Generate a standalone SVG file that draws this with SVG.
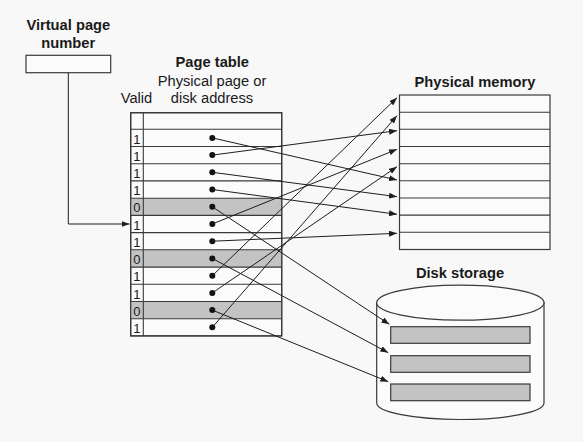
<svg xmlns="http://www.w3.org/2000/svg" width="583" height="442" viewBox="0 0 583 442">
<style>
  .t { font-family: "Liberation Sans", Arial, sans-serif; font-size: 14.7px; fill: #1a1a1a; }
  .b { font-weight: bold; }
  .v { font-family: "Liberation Sans", Arial, sans-serif; font-size: 13px; fill: #1a1a1a; }
  .box { fill: #fbfbfb; stroke: #3a3a3a; stroke-width: 1.2; }
  .ln { stroke: #3a3a3a; stroke-width: 1.1; fill: none; }
  .gray { fill: #c3c3c3; }
  .conn { stroke: #1e1e1e; stroke-width: 1; fill: none; marker-end: url(#ah); }
  .dot { fill: #111; }
  .slab { fill: #c3c3c3; stroke: #3a3a3a; stroke-width: 1.2; }
</style>
<defs>
  <marker id="ah" viewBox="0 0 8 6" refX="8" refY="3" markerWidth="8" markerHeight="6" markerUnits="userSpaceOnUse" orient="auto">
    <path d="M0,0 L8,3 L0,6 z" fill="#1e1e1e"/>
  </marker>
</defs>
<rect width="583" height="442" fill="#f8f8f8"/>

<g id="virtual-page-number">
  <text class="t b" x="68.3" y="30" text-anchor="middle">Virtual page</text>
  <text class="t b" x="68.3" y="48" text-anchor="middle">number</text>
  <rect class="box" x="26" y="55.3" width="84.7" height="17.4"/>
</g>

<g id="page-table">
  <text class="t b" x="212.3" y="66.7" text-anchor="middle">Page table</text>
  <text class="t" x="212" y="86" text-anchor="middle">Physical page or</text>
  <text class="t" x="212" y="103.3" text-anchor="middle">disk address</text>
  <text class="t" x="136.5" y="103.3" text-anchor="middle">Valid</text>
  <rect class="box" x="130.7" y="112.7" width="151" height="223.2"/>
  <rect class="gray" x="130.7" y="198.2" width="151" height="17.2"/>
  <rect class="gray" x="130.7" y="249.8" width="151" height="17.3"/>
  <rect class="gray" x="130.7" y="301.5" width="151" height="17.2"/>
  <path class="ln" d="M143.3,112.7 V335.9 M130.7,129.3 H281.7 M130.7,146.5 H281.7 M130.7,163.7 H281.7 M130.7,180.9 H281.7 M130.7,198.2 H281.7 M130.7,215.4 H281.7 M130.7,232.6 H281.7 M130.7,249.8 H281.7 M130.7,267.1 H281.7 M130.7,284.3 H281.7 M130.7,301.5 H281.7 M130.7,318.7 H281.7"/>
  <rect x="130.7" y="112.7" width="151" height="223.2" fill="none" stroke="#3a3a3a" stroke-width="1.2"/>
  <g class="v">
    <text x="133.3" y="143.5">1</text>
    <text x="133.3" y="160.7">1</text>
    <text x="133.3" y="177.9">1</text>
    <text x="133.3" y="195.1">1</text>
    <text x="133.3" y="212.4">0</text>
    <text x="133.3" y="229.6">1</text>
    <text x="133.3" y="246.8">1</text>
    <text x="133.3" y="264">0</text>
    <text x="133.3" y="281.3">1</text>
    <text x="133.3" y="298.5">1</text>
    <text x="133.3" y="315.7">0</text>
    <text x="133.3" y="332.9">1</text>
  </g>
  <g class="dot">
    <circle cx="212.3" cy="137.9" r="3"/>
    <circle cx="212.3" cy="155.1" r="3"/>
    <circle cx="212.3" cy="172.3" r="3"/>
    <circle cx="212.3" cy="189.5" r="3"/>
    <circle cx="212.3" cy="206.8" r="3"/>
    <circle cx="212.3" cy="224" r="3"/>
    <circle cx="212.3" cy="241.2" r="3"/>
    <circle cx="212.3" cy="258.4" r="3"/>
    <circle cx="212.3" cy="275.7" r="3"/>
    <circle cx="212.3" cy="292.9" r="3"/>
    <circle cx="212.3" cy="310.1" r="3"/>
    <circle cx="212.3" cy="327.3" r="3"/>
  </g>
</g>

<g id="physical-memory">
  <text class="t b" x="475" y="86.7" text-anchor="middle">Physical memory</text>
  <rect class="box" x="399.5" y="95" width="150.5" height="154.5"/>
  <path class="ln" d="M399.5,112.2 H550 M399.5,129.3 H550 M399.5,146.5 H550 M399.5,163.7 H550 M399.5,180.8 H550 M399.5,198 H550 M399.5,215.1 H550 M399.5,232.3 H550"/>
</g>

<g id="disk-storage">
  <text class="t b" x="460" y="278.3" text-anchor="middle">Disk storage</text>
  <path class="box" d="M376.7,302.7 V403 A83.65,16.5 0 0 0 544,403 V302.7 Z"/>
  <ellipse class="box" cx="460.35" cy="302.7" rx="83.65" ry="17.5"/>
  <rect class="slab" x="390.7" y="326.7" width="139.3" height="16.6"/>
  <rect class="slab" x="390.7" y="355.7" width="139.3" height="16.6"/>
  <rect class="slab" x="390.7" y="384" width="139.3" height="16.7"/>
</g>

<g id="connectors">
  <path class="conn" d="M68.3,72.7 V224 H129.5"/>
  <path class="conn" d="M212.3,137.9 L397,180"/>
  <path class="conn" d="M212.3,155.1 L397,130.7"/>
  <path class="conn" d="M212.3,172.3 L397,196.7"/>
  <path class="conn" d="M212.3,189.5 L397,214.3"/>
  <path class="conn" d="M212.3,206.8 L389.3,324.3"/>
  <path class="conn" d="M212.3,224 L397,149.3"/>
  <path class="conn" d="M212.3,241.2 L397,233.3"/>
  <path class="conn" d="M212.3,258.4 L388.3,352.7"/>
  <path class="conn" d="M212.3,275.7 L397,97.7"/>
  <path class="conn" d="M212.3,292.9 L397,166.7"/>
  <path class="conn" d="M212.3,310.1 L388.3,381.7"/>
  <path class="conn" d="M212.3,327.3 L397,115.7"/>
</g>
</svg>
